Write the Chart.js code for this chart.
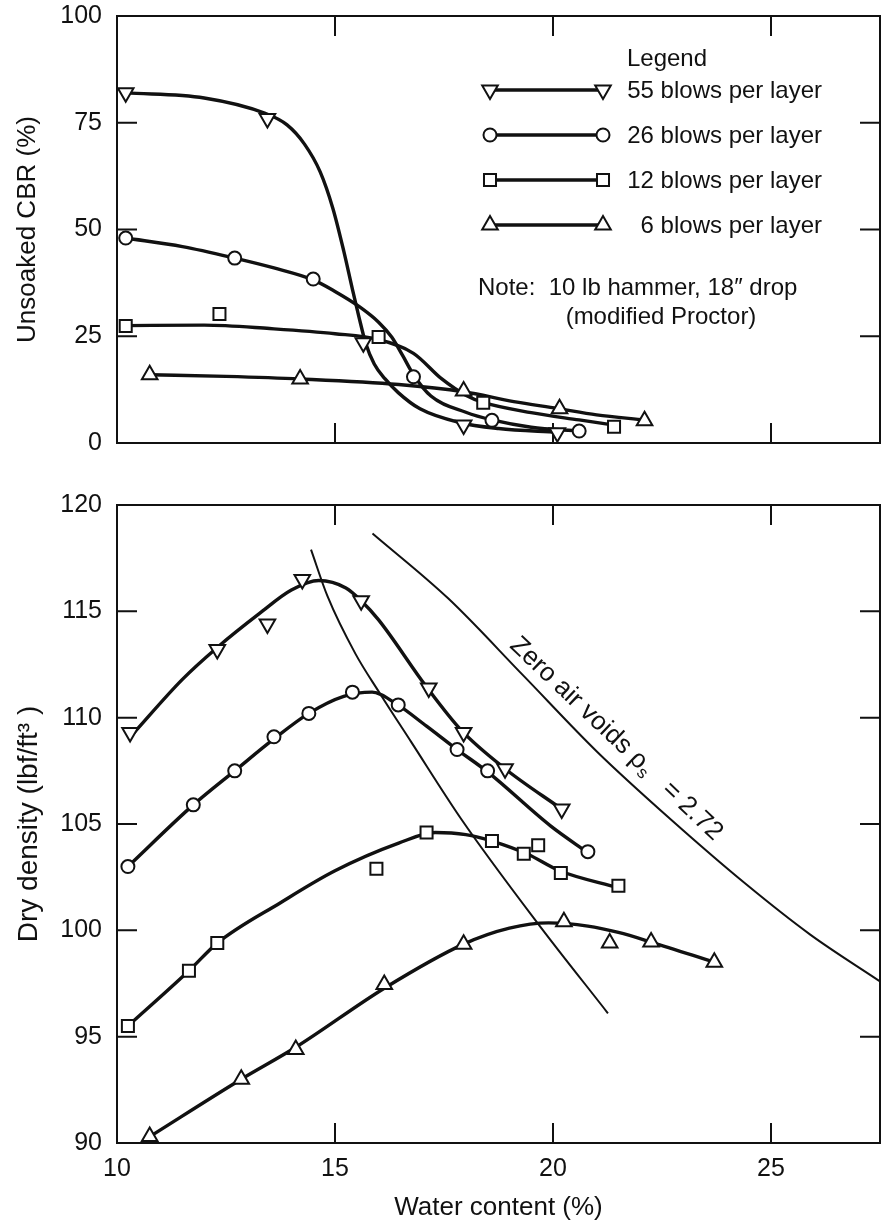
<!DOCTYPE html>
<html>
<head>
<meta charset="utf-8">
<script src="https://cdn.jsdelivr.net/npm/chart.js@4.4.1/dist/chart.umd.min.js"></script>
<style>
  html, body { margin: 0; padding: 0; background: #fff; }
  #wrap { position: relative; width: 882px; height: 1225px; }
  canvas { position: absolute; left: 0; }
  #cbr { top: 0; }
  #density { top: 470px; }
</style>
</head>
<body>
<div id="wrap">
  <canvas id="cbr" width="882" height="470"></canvas>
  <canvas id="density" width="882" height="755"></canvas>
</div>
<script>
// valores (teor de umidade %, valor)
const waterTicks = [10, 15, 20, 25];
const cbrTicks = [0, 25, 50, 75, 100];
const densityTicks = [90, 95, 100, 105, 110, 115, 120];
const seriesNames = ['55 blows per layer', '26 blows per layer', '12 blows per layer', '6 blows per layer'];

// CBR nao saturado - pontos de ensaio
const cbr55 = [[10.2, 82], [13.45, 76], [15.65, 23.5], [17.95, 4.2], [20.1, 2.4]];
const cbr26 = [[10.2, 48], [12.7, 43.3], [14.5, 38.4], [16.8, 15.5], [18.6, 5.3], [20.6, 2.8]];
const cbr12 = [[10.2, 27.4], [12.35, 30.2], [16.0, 24.8], [18.4, 9.4], [21.4, 3.8]];
const cbr6 = [[10.75, 16], [14.2, 15], [17.95, 12.2], [20.15, 8], [22.1, 5.2]];

// CBR - curvas ajustadas (lidas ao longo do traco)
const cbrCurve55 = [[10.2, 82], [12.0, 80.8], [13.4, 77.2], [13.9, 74.5], [14.3, 70], [14.66, 63.5], [14.95, 55],
  [15.2, 45], [15.4, 36], [15.55, 29.5], [15.7, 23.5], [15.9, 18.5], [16.15, 15], [16.45, 11.8], [16.95, 8.0],
  [17.85, 4.8], [18.75, 3.4], [20.1, 2.5]];
const cbrCurve26 = [[10.2, 48], [11.5, 46], [12.7, 43.3], [13.6, 41], [14.5, 38.2], [15.0, 35.5], [15.55, 32],
  [16.0, 28.3], [16.3, 24.8], [16.55, 20.5], [16.8, 16], [17.2, 11], [18.0, 7.2], [18.6, 5.4], [19.5, 3.7], [20.6, 2.8]];
const cbrCurve12 = [[10.2, 27.5], [12.0, 27.6], [13.5, 26.8], [15.0, 25.6], [16.0, 24.2], [16.8, 21], [17.45, 15],
  [18.0, 11.2], [18.4, 9.5], [19.5, 7.1], [20.6, 5.4], [21.4, 4.2]];
const cbrCurve6 = [[10.75, 16], [12.5, 15.6], [14.2, 15], [16.46, 13.7], [17.95, 12], [19.1, 9.7], [20.1, 8.1],
  [21.0, 6.6], [22.1, 5.4]];

// massa especifica seca - pontos de ensaio
const dens55 = [[10.3, 109.3], [12.3, 113.2], [13.45, 114.4], [14.25, 116.5], [15.6, 115.5], [17.15, 111.4],
  [17.95, 109.3], [18.9, 107.6], [20.2, 105.7]];
const dens26 = [[10.25, 103.0], [11.75, 105.9], [12.7, 107.5], [13.6, 109.1], [14.4, 110.2], [15.4, 111.2],
  [16.45, 110.6], [17.8, 108.5], [18.5, 107.5], [20.8, 103.7]];
const dens12 = [[10.25, 95.5], [11.65, 98.1], [12.3, 99.4], [15.95, 102.9], [17.1, 104.6], [18.6, 104.2],
  [19.33, 103.6], [19.66, 104.0], [20.18, 102.7], [21.5, 102.1]];
const dens6 = [[10.75, 90.3], [12.85, 93.0], [14.1, 94.4], [16.13, 97.45], [17.95, 99.35], [20.25, 100.4],
  [21.3, 99.4], [22.25, 99.45], [23.7, 98.5]];

// massa especifica seca - curvas
const densCurve55 = [[10.35, 109.2], [11.5, 111.8], [12.3, 113.3], [13.27, 114.9], [14.0, 116.0], [14.63, 116.45],
  [15.25, 116.1], [15.6, 115.5], [16.0, 114.6], [17.08, 111.5], [17.9, 109.4], [18.9, 107.6], [20.2, 105.7]];
const densCurve26 = [[10.25, 103.0], [11.75, 105.9], [12.7, 107.5], [13.6, 109.0], [14.4, 110.2], [15.2, 111.0],
  [15.85, 111.2], [16.44, 110.6], [17.1, 109.6], [17.8, 108.5], [18.5, 107.45], [19.95, 104.9], [20.8, 103.65]];
const densCurve12 = [[10.25, 95.5], [11.65, 98.1], [12.3, 99.4], [13.75, 101.3], [15.0, 102.8], [16.46, 104.1],
  [17.3, 104.6], [18.0, 104.5], [18.6, 104.2], [19.4, 103.6], [20.15, 102.8], [21.5, 102.0]];
const densCurve6 = [[10.75, 90.3], [12.85, 93.0], [14.1, 94.5], [16.15, 97.3], [17.95, 99.35], [19.0, 100.1],
  [19.9, 100.35], [20.8, 100.2], [21.5, 99.9], [22.25, 99.45], [23.7, 98.5]];

// linha dos otimos e curva de saturacao (zero air voids)
const optimumLine = [[14.45, 117.9], [14.83, 115.7], [15.47, 113.0], [16.03, 111.14], [16.75, 108.85],
  [17.91, 105.19], [19.65, 100.33], [21.26, 96.1]];
const zeroAirVoids = [[15.86, 118.66], [17.6, 115.6], [19.31, 112.0], [21.01, 108.4], [22.71, 105.2],
  [24.41, 102.2], [25.9, 99.8], [27.5, 97.6]];

const FONT = '"Liberation Sans", Arial, Helvetica, sans-serif';
const INK = '#111';
const TICK = 20;
Chart.defaults.font.family = FONT;
Chart.defaults.color = INK;

const markerStyles = [
    { style: 'triangle', rotation: 180, radius: 9 },
    { style: 'circle', rotation: 0, radius: 6.5 },
    { style: 'rect', rotation: 0, radius: 8.5 },
    { style: 'triangle', rotation: 0, radius: 9 }
];

const pts = arr => arr.map(([x, y]) => ({ x, y }));

function serieDatasets(markers, curves) {
    const sets = [];
    markers.forEach((m, i) => {
        const st = markerStyles[i];
        sets.push({
            label: seriesNames[i],
            data: pts(m),
            showLine: false,
            order: 0,
            clip: false,
            pointStyle: st.style,
            pointRotation: st.rotation,
            pointRadius: st.radius,
            pointHoverRadius: st.radius,
            pointBorderWidth: 2,
            pointBorderColor: INK,
            pointBackgroundColor: '#fff'
        });
        sets.push({
            label: seriesNames[i] + ' (curve)',
            data: pts(curves[i]),
            showLine: true,
            order: 1,
            borderColor: INK,
            borderWidth: 3.4,
            pointRadius: 0,
            cubicInterpolationMode: 'monotone',
            fill: false
        });
    });
    return sets;
}

// moldura com tracos internos
const frameTicks = {
    id: 'frameTicks',
    beforeDatasetsDraw(chart) {
        const { ctx, chartArea: a, scales: { x, y } } = chart;
        ctx.save();
        ctx.strokeStyle = INK;
        ctx.lineWidth = 2;
        ctx.strokeRect(a.left, a.top, a.right - a.left, a.bottom - a.top);
        ctx.beginPath();
        x.ticks.forEach(t => {
            if (t.value <= x.min || t.value >= x.max) return;
            const p = x.getPixelForValue(t.value);
            ctx.moveTo(p, a.top); ctx.lineTo(p, a.top + TICK);
            ctx.moveTo(p, a.bottom); ctx.lineTo(p, a.bottom - TICK);
        });
        y.ticks.forEach(t => {
            if (t.value <= y.min || t.value >= y.max) return;
            const p = y.getPixelForValue(t.value);
            ctx.moveTo(a.left, p); ctx.lineTo(a.left + TICK, p);
            ctx.moveTo(a.right, p); ctx.lineTo(a.right - TICK, p);
        });
        ctx.stroke();
        ctx.restore();
    }
};

// legenda e nota do grafico de CBR
const cbrNotes = {
    id: 'cbrNotes',
    afterDraw(chart) {
        const ctx = chart.ctx;
        ctx.save();
        ctx.fillStyle = INK;
        ctx.strokeStyle = INK;
        ctx.font = '24px ' + FONT;
        ctx.textBaseline = 'middle';
        ctx.textAlign = 'center';
        ctx.fillText('Legend', 667, 59);
        seriesNames.forEach((name, i) => {
            const yy = 90 + i * 45;
            const st = markerStyles[i];
            ctx.lineWidth = 3.4;
            ctx.beginPath();
            ctx.moveTo(490, yy);
            ctx.lineTo(603, yy);
            ctx.stroke();
            const opts = { pointStyle: st.style, rotation: st.rotation, radius: st.radius, borderWidth: 2 };
            ctx.fillStyle = '#fff';
            ctx.lineWidth = 2;
            Chart.helpers.drawPoint(ctx, opts, 490, yy);
            Chart.helpers.drawPoint(ctx, opts, 603, yy);
            ctx.fillStyle = INK;
            ctx.textAlign = 'right';
            ctx.fillText(name, 822, yy + 1);
        });
        ctx.textAlign = 'left';
        ctx.fillText('Note:  10 lb hammer, 18\u2033 drop', 478, 288);
        ctx.textAlign = 'center';
        ctx.fillText('(modified Proctor)', 661, 317);
        ctx.restore();
    }
};

// rotulo da curva de saturacao
const zavNote = {
    id: 'zavNote',
    afterDraw(chart) {
        const { ctx, scales: { x, y } } = chart;
        const px = x.getPixelForValue(21.1);
        const py = y.getPixelForValue(108.25);
        ctx.save();
        ctx.translate(px, py);
        ctx.rotate(43.5 * Math.PI / 180);
        ctx.fillStyle = INK;
        ctx.textBaseline = 'middle';
        ctx.textAlign = 'left';
        const partes = [
            ['Zero air voids \u03c1', 26, 0],
            ['s', 17, 7],
            ['   = 2.72', 26, 0]
        ];
        let total = 0;
        partes.forEach(p => { ctx.font = p[1] + 'px ' + FONT; total += ctx.measureText(p[0]).width; });
        let cx = -total / 2;
        partes.forEach(p => {
            ctx.font = p[1] + 'px ' + FONT;
            ctx.fillText(p[0], cx, -22 + p[2]);
            cx += ctx.measureText(p[0]).width;
        });
        ctx.restore();
    }
};

function eixoX(height, showLabels) {
    return {
        type: 'linear', min: 10, max: 27.5,
        afterBuildTicks: s => { s.ticks = waterTicks.map(v => ({ value: v })); },
        ticks: { display: showLabels, color: INK, font: { size: 25 }, padding: 11 },
        grid: { display: false, drawTicks: false },
        border: { display: false },
        title: { display: showLabels, text: 'Water content (%)', color: INK, font: { size: 26 }, padding: { top: 4, bottom: 2 } },
        afterFit: s => { s.height = height; }
    };
}

function eixoY(min, max, tickList, titulo, tamanho) {
    return {
        type: 'linear', min: min, max: max,
        afterBuildTicks: s => { s.ticks = tickList.map(v => ({ value: v })); },
        ticks: { color: INK, font: { size: 25 }, padding: 15 },
        grid: { display: false, drawTicks: false },
        border: { display: false },
        title: { display: true, text: titulo, color: INK, font: { size: tamanho }, padding: { top: 12, bottom: 0 } },
        afterFit: s => {
            s.width = 117;
            s.paddingTop = 0;
            s.paddingBottom = 0;
        }
    };
}

new Chart(document.getElementById('cbr').getContext('2d'), {
    type: 'scatter',
    data: { datasets: serieDatasets([cbr55, cbr26, cbr12, cbr6], [cbrCurve55, cbrCurve26, cbrCurve12, cbrCurve6]) },
    options: {
        responsive: false,
        animation: false,
        events: [],
        layout: { autoPadding: false, padding: { top: 16, right: 2, left: 0, bottom: 0 } },
        plugins: { legend: { display: false }, tooltip: { enabled: false } },
        scales: {
            x: eixoX(27, false),
            y: eixoY(0, 100, cbrTicks, 'Unsoaked CBR (%)', 26)
        }
    },
    plugins: [frameTicks, cbrNotes]
});

const densSets = serieDatasets([dens55, dens26, dens12, dens6], [densCurve55, densCurve26, densCurve12, densCurve6]);
densSets.push({
    label: 'Line of optimums',
    data: pts(optimumLine),
    showLine: true, order: 2, borderColor: INK, borderWidth: 2, pointRadius: 0,
    cubicInterpolationMode: 'monotone'
});
densSets.push({
    label: 'Zero air voids',
    data: pts(zeroAirVoids),
    showLine: true, order: 2, borderColor: INK, borderWidth: 2, pointRadius: 0,
    cubicInterpolationMode: 'monotone'
});

new Chart(document.getElementById('density').getContext('2d'), {
    type: 'scatter',
    data: { datasets: densSets },
    options: {
        responsive: false,
        animation: false,
        events: [],
        layout: { autoPadding: false, padding: { top: 35, right: 2, left: 0, bottom: 0 } },
        plugins: { legend: { display: false }, tooltip: { enabled: false } },
        scales: {
            x: eixoX(82, true),
            y: eixoY(90, 120, densityTicks, 'Dry density (lbf/ft\u00b3 )', 28)
        }
    },
    plugins: [frameTicks, zavNote]
});
</script>
</body>
</html>
